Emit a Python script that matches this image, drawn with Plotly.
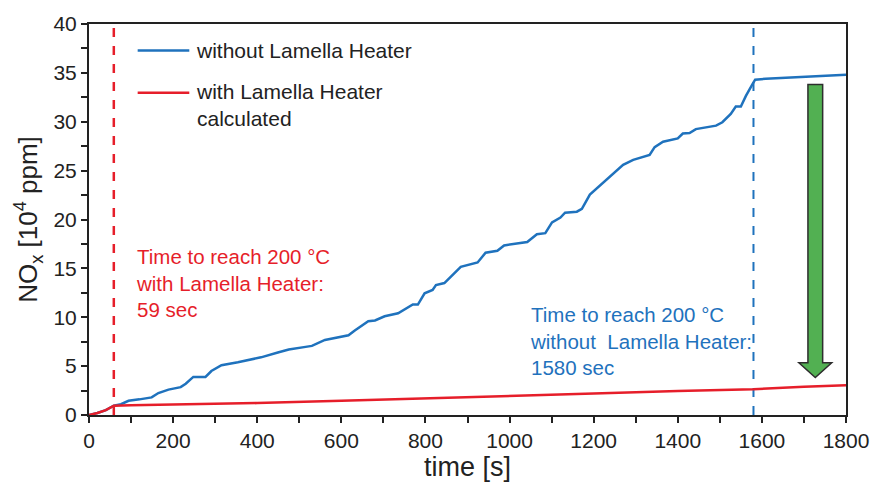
import plotly.graph_objects as go

# ---- data ----
t_without = [0, 20, 40, 59, 76, 94, 120, 149, 165, 189, 218, 230, 248, 277, 291, 315, 354, 409, 449,
             475, 515, 530, 561, 617, 632, 664, 680, 703, 735, 770, 782, 798, 817, 825, 845, 884, 924,
             943, 971, 987, 1042, 1065, 1085, 1101, 1121, 1132, 1160, 1172, 1191, 1239, 1270, 1294,
             1333, 1345, 1365, 1400, 1412, 1428, 1443, 1491, 1506, 1526, 1538, 1550, 1562, 1577, 1584,
             1609, 1700, 1800]
nox_without = [0, 0.2, 0.5, 0.95, 1.1, 1.45, 1.6, 1.8, 2.25, 2.6, 2.85, 3.2, 3.9, 3.9, 4.5, 5.1, 5.4,
               5.9, 6.4, 6.7, 6.97, 7.07, 7.68, 8.15, 8.65, 9.6, 9.67, 10.1, 10.4, 11.3, 11.3, 12.45,
               12.8, 13.3, 13.5, 15.15, 15.6, 16.6, 16.8, 17.35, 17.7, 18.5, 18.6, 19.7, 20.2, 20.7,
               20.8, 21.1, 22.55, 24.4, 25.6, 26.1, 26.6, 27.4, 27.95, 28.3, 28.8, 28.85, 29.25, 29.6,
               29.95, 30.8, 31.55, 31.55, 32.65, 33.8, 34.3, 34.4, 34.6, 34.8]

t_with = [0, 20, 40, 59, 100, 200, 400, 600, 800, 1000, 1200, 1400, 1580, 1700, 1800]
nox_with = [0, 0.2, 0.5, 0.95, 1.0, 1.05, 1.22, 1.45, 1.68, 1.9, 2.2, 2.45, 2.63, 2.9, 3.05]

series_names = ["without Lamella Heater", "with Lamella Heater<br>calculated"]

t_reach_with = 59
t_reach_without = 1580

x_ticks = list(range(0, 1801, 200))
y_ticks = list(range(0, 41, 5))

# arrow (decoration) in data units
arrow_x = 1727
arrow_top = 33.8
arrow_head_start = 5.35
arrow_tip = 3.84
shaft_half = 17.5
head_half = 39

BLUE = "rgb(31,114,189)"
RED = "rgb(230,30,42)"
FONT = "Arial, Liberation Sans, sans-serif"
TXT = "#222"

fig = go.Figure()
fig.add_trace(go.Scatter(x=t_without, y=nox_without, mode="lines",
                         line=dict(color=BLUE, width=2.5),
                         name=series_names[0], showlegend=False))
fig.add_trace(go.Scatter(x=t_with, y=nox_with, mode="lines",
                         line=dict(color=RED, width=2.5),
                         name=series_names[1], showlegend=False))

shapes = [
    dict(type="line", xref="x", yref="y", x0=t_reach_with, x1=t_reach_with, y0=0, y1=40,
         line=dict(color=RED, width=2.5, dash="dash"), layer="below"),
    dict(type="line", xref="x", yref="y", x0=t_reach_without, x1=t_reach_without, y0=0, y1=40,
         line=dict(color=BLUE, width=2, dash="dash"), layer="below"),
]
path = (f"M {arrow_x - shaft_half},{arrow_top} L {arrow_x + shaft_half},{arrow_top} "
        f"L {arrow_x + shaft_half},{arrow_head_start} L {arrow_x + head_half},{arrow_head_start} "
        f"L {arrow_x},{arrow_tip} L {arrow_x - head_half},{arrow_head_start} "
        f"L {arrow_x - shaft_half},{arrow_head_start} Z")
shapes.append(dict(type="path", xref="x", yref="y", path=path,
                   fillcolor="rgb(82,176,82)", line=dict(color="rgb(45,45,45)", width=1.5)))

# legend drawn inside the plot (paper coordinates)
leg_x0, leg_x1, leg_tx = 0.0643, 0.1325, 0.1391
leg_rows = [0.932, 0.824]
leg_text_y = [0.932, 0.793]
for color, yy in zip([BLUE, RED], leg_rows):
    shapes.append(dict(type="line", xref="paper", yref="paper", x0=leg_x0, x1=leg_x1,
                       y0=yy, y1=yy, line=dict(color=color, width=2.5)))

annotations = [
    dict(x=106, y=13.5, xref="x", yref="y", xanchor="left", yanchor="middle", align="left",
         showarrow=False,
         text="Time to reach 200 °C<br>with Lamella Heater:<br>59 sec",
         font=dict(family=FONT, size=20.5, color=RED)),
    dict(x=1044, y=7.6, xref="x", yref="y", xanchor="left", yanchor="middle", align="left",
         showarrow=False,
         text="Time to reach 200 °C<br>without\u00a0 Lamella Heater:<br>1580 sec",
         font=dict(family=FONT, size=20.5, color=BLUE)),
]
for name, yy in zip(series_names, leg_text_y):
    annotations.append(dict(x=leg_tx, y=yy, xref="paper", yref="paper", xanchor="left",
                            yanchor="middle", align="left", showarrow=False, text=name,
                            font=dict(family=FONT, size=21, color=TXT)))

fig.update_layout(
    width=881, height=487,
    margin=dict(l=89, r=30, t=19, b=72),
    plot_bgcolor="white", paper_bgcolor="white",
    font=dict(family=FONT, size=21, color=TXT),
    shapes=shapes, annotations=annotations,
    showlegend=False,
)
fig.update_xaxes(range=[0, 1800], tickvals=x_ticks, ticks="outside", ticklen=6, tickwidth=1.5,
                 tickcolor=TXT, showline=True, linecolor=TXT, linewidth=2, mirror=True,
                 showgrid=False, zeroline=False,
                 minor=dict(dtick=100, ticks="outside", ticklen=6, tickwidth=1.5, tickcolor=TXT),
                 title=dict(text="time [s]", font=dict(family=FONT, size=27), standoff=4))
fig.update_yaxes(range=[0, 40], tickvals=y_ticks, ticks="outside", ticklen=6, tickwidth=1.5,
                 tickcolor=TXT, showline=True, linecolor=TXT, linewidth=2, mirror=True,
                 showgrid=False, zeroline=False,
                 minor=dict(dtick=2.5, ticks="outside", ticklen=6, tickwidth=1.5, tickcolor=TXT),
                 title=dict(text="NO<sub>x</sub> [10<sup>4</sup> ppm]",
                            font=dict(family=FONT, size=26), standoff=8))

fig.write_html("out.html")
